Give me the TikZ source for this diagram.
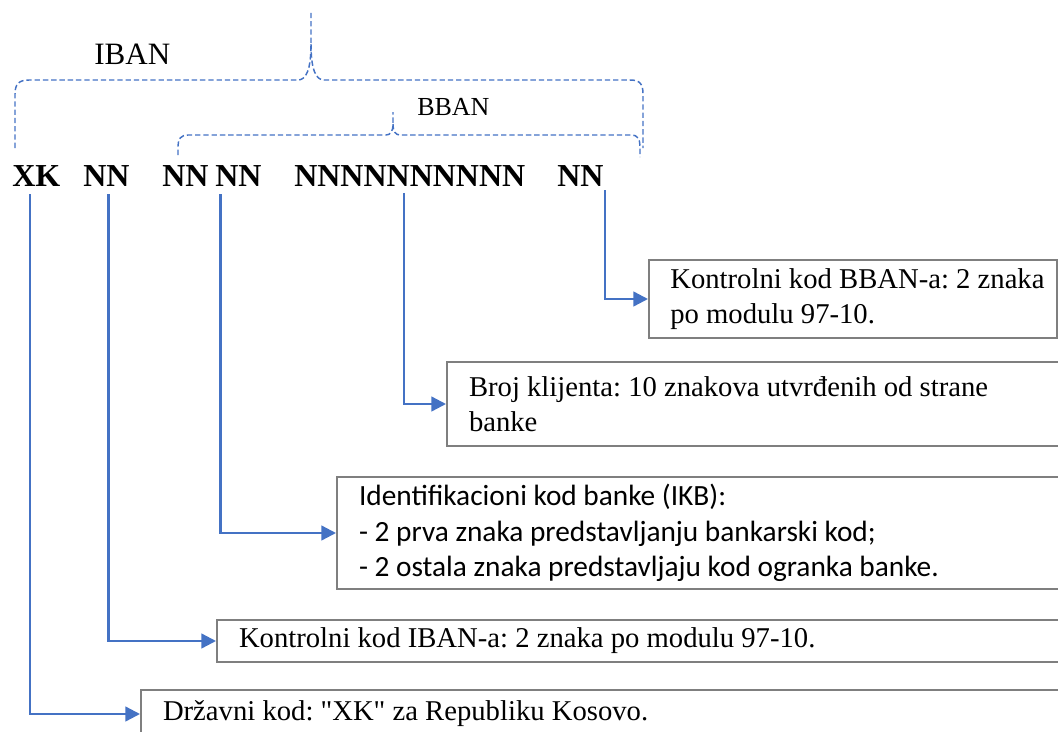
\documentclass[tikz,border=0pt]{standalone}
\usepackage{fontspec}
\setmainfont{Liberation Serif}[Ligatures=TeXOff]
\newfontfamily\carlito{Carlito}
\usetikzlibrary{arrows.meta}
\definecolor{wordblue}{HTML}{4472C4}
\definecolor{boxgray}{HTML}{7F7F7F}
\frenchspacing

\begin{document}
\begin{tikzpicture}[x=0.75pt, y=-0.75pt]
    \tikzstyle{code_style}=[anchor=base west, inner sep=0pt, font=\fontsize{24}{28}\selectfont\bfseries]
    \tikzstyle{box_style}=[draw=boxgray, line width=1.5pt, anchor=west, align=left, inner xsep=16.5pt, inner ysep=0pt,
      text width=900pt, font=\fontsize{21.5}{26}\selectfont,
      execute at begin node={\rightskip=0pt plus 1fil\spaceskip=0pt\xspaceskip=0pt}]
    \tikzstyle{brace_style}=[wordblue, line width=1.1pt, dash pattern=on 4pt off 2.2pt]
    \tikzstyle{arrow_style}=[wordblue, line width=1.8pt, -{Triangle[length=11pt,width=11pt]}]
    \tikzstyle{elbow}=[to path={|- (\tikztotarget)}]

    \useasboundingbox (0,0) rectangle (1058,732);
    \clip (0,0) rectangle (1058,732);

    % IBAN brace
    \node at (94, 64) [anchor=base west, inner sep=0pt, font=\fontsize{23.3}{28}\selectfont] (lab_iban) {IBAN};
    \draw[brace_style] (15,148) -- (15,94) .. controls (15,84) and (19,80) .. (29,80) -- (298,80)
      .. controls (306,80) and (311,70) .. (311,44) -- (311,12);
    \draw[brace_style] (311,44) .. controls (311,70) and (316,80) .. (324,80) -- (630,80)
      .. controls (640,80) and (643,84) .. (643,94) -- (643,148);

    % BBAN brace
    \node at (417, 115) [anchor=base west, inner sep=0pt, font=\fontsize{19.5}{23}\selectfont] (lab_bban) {BBAN};
    \draw[brace_style] (178,155) -- (178,146) .. controls (178,139) and (181,135) .. (188,135) -- (386,135)
      .. controls (390,135) and (393,132) .. (393,124) -- (393,112);
    \draw[brace_style] (393,124) .. controls (393,132) and (396,135) .. (400,135) -- (632,135)
      .. controls (637,135) and (640,139) .. (640,146) -- (640,157);

    % code groups
    \foreach \x/\n/\t in {12/xk/XK, 83/ibanchk/NN, 162/bank/NN, 215/branch/NN, 294/client/NNNNNNNNNN, 557/bbanchk/NN}
      \node at (\x, 186) [code_style] (code_\n) {\t};

    % description boxes
    \node at (648, 299) [box_style, inner xsep=4pt, text width=298pt, minimum height=58.5pt,
      execute at begin node={\rightskip=0pt plus 1fil\spaceskip=0pt\xspaceskip=0pt\leftskip=12pt}] (box_bbanchk) {
      Kontrolni kod BBAN-a: 2 znaka\\po modulu 97-10.
    };
    \node at (446, 404) [box_style, minimum height=63pt] (box_client) {
      Broj klijenta: 10 znakova utvrđenih od strane\\banke
    };
    \node at (336, 533) [box_style, minimum height=84pt, font=\carlito\fontsize{22}{26.8}\selectfont] (box_bank) {
      Identifikacioni kod banke (IKB):\\- 2 prva znaka predstavljanju bankarski kod;\\- 2 ostala znaka predstavljaju kod ogranka banke.
    };
    \node at (216, 641) [box_style, minimum height=31.5pt] (box_ibanchk) {
      Kontrolni kod IBAN-a: 2 znaka po modulu 97-10.
    };
    \node at (140, 714) [box_style, minimum height=36pt] (box_state) {
      Državni kod: "XK" za Republiku Kosovo.
    };

    % connect: code -> box
    \path[arrow_style] ([xshift=1pt,yshift=-3pt]code_bbanchk.south east) edge[elbow] (box_bbanchk);
    \path[arrow_style] ([xshift=-4.5pt,yshift=-5pt]code_client.south) edge[elbow] (box_client);
    \path[arrow_style] ([xshift=4pt,yshift=-6pt]code_branch.south west) edge[elbow] (box_bank);
    \path[arrow_style] ([xshift=1.5pt,yshift=-6pt]code_ibanchk.south) edge[elbow] (box_ibanchk);
    \path[arrow_style] ([xshift=-4.5pt,yshift=-6pt]code_xk.south) edge[elbow] (box_state);

\end{tikzpicture}
\end{document}
